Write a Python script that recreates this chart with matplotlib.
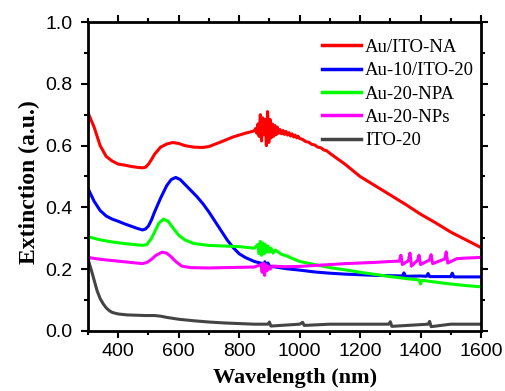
import matplotlib
matplotlib.use("Agg")
import matplotlib.pyplot as plt
from matplotlib.ticker import MultipleLocator

# 读图得到的数据 (波长 nm, 消光)
wl_red = [300, 320, 340, 360, 380, 400, 420, 440, 460, 480, 490, 500, 510, 520, 540, 560, 580,
          600, 620, 650, 680, 700, 740, 780, 820, 840, 850, 854, 858, 862, 866, 870, 874, 878,
          882, 886, 890, 894, 898, 902, 906, 910, 914, 918, 922, 926, 930, 935, 940, 945, 950,
          955, 960, 965, 970, 975, 980, 985, 990, 995, 1000, 1010, 1020, 1030, 1040, 1050, 1060,
          1070, 1080, 1090, 1100, 1150, 1200, 1250, 1300, 1350, 1400, 1450, 1500, 1550, 1600]
ext_red = [0.706, 0.66, 0.60, 0.565, 0.55, 0.54, 0.537, 0.533, 0.53, 0.528, 0.53, 0.54, 0.555,
           0.572, 0.595, 0.605, 0.61, 0.607, 0.60, 0.595, 0.594, 0.597, 0.612, 0.628, 0.64,
           0.645, 0.648, 0.655, 0.64, 0.67, 0.63, 0.70, 0.615, 0.69, 0.635, 0.685, 0.60, 0.71,
           0.61, 0.685, 0.625, 0.67, 0.63, 0.665, 0.635, 0.66, 0.64, 0.652, 0.638, 0.649, 0.636,
           0.646, 0.634, 0.642, 0.631, 0.638, 0.628, 0.634, 0.625, 0.63, 0.623, 0.62, 0.613,
           0.611, 0.604, 0.602, 0.595, 0.593, 0.586, 0.583, 0.575, 0.54, 0.50, 0.47, 0.44, 0.41,
           0.378, 0.35, 0.32, 0.295, 0.27]

wl_blue = [300, 320, 340, 360, 380, 400, 420, 440, 460, 480, 490, 500, 510, 520, 540, 560, 575,
           590, 605, 620, 640, 660, 680, 700, 720, 740, 760, 780, 800, 820, 850, 870, 880, 885,
           890, 895, 900, 920, 940, 960, 980, 1000, 1050, 1100, 1150, 1200, 1250, 1300, 1340,
           1345, 1350, 1400, 1420, 1425, 1430, 1480, 1500, 1505, 1510, 1550, 1600]
ext_blue = [0.461, 0.42, 0.39, 0.372, 0.362, 0.355, 0.347, 0.34, 0.333, 0.327, 0.33, 0.34, 0.36,
            0.385, 0.43, 0.47, 0.49, 0.497, 0.49, 0.475, 0.455, 0.435, 0.412, 0.385, 0.355,
            0.325, 0.295, 0.27, 0.25, 0.238, 0.225, 0.22, 0.214, 0.224, 0.206, 0.22, 0.21,
            0.207, 0.204, 0.201, 0.199, 0.197, 0.191, 0.187, 0.184, 0.182, 0.18, 0.179, 0.178,
            0.188, 0.177, 0.178, 0.177, 0.186, 0.176, 0.176, 0.176, 0.187, 0.175, 0.175, 0.175]

wl_green = [300, 340, 380, 420, 460, 480, 495, 510, 520, 535, 550, 565, 580, 600, 620, 650, 700,
            750, 800, 850, 862, 866, 870, 874, 878, 882, 886, 890, 895, 900, 906, 912, 920, 940,
            960, 980, 1000, 1050, 1100, 1150, 1200, 1250, 1300, 1350, 1395, 1400, 1405, 1450,
            1500, 1550, 1600]
ext_green = [0.305, 0.295, 0.288, 0.283, 0.279, 0.277, 0.28, 0.30, 0.32, 0.35, 0.362, 0.355,
             0.335, 0.31, 0.295, 0.283, 0.277, 0.275, 0.273, 0.268, 0.28, 0.25, 0.29, 0.245,
             0.285, 0.25, 0.28, 0.255, 0.275, 0.255, 0.268, 0.252, 0.262, 0.248, 0.242, 0.233,
             0.225, 0.215, 0.205, 0.198, 0.19, 0.183, 0.176, 0.17, 0.165, 0.152, 0.164, 0.158,
             0.152, 0.147, 0.143]

wl_mag = [300, 340, 380, 420, 460, 480, 495, 510, 525, 545, 560, 575, 590, 610, 640, 700, 750,
          800, 850, 872, 876, 880, 884, 888, 892, 896, 902, 910, 950, 1000, 1050, 1100, 1150,
          1200, 1250, 1300, 1330, 1335, 1340, 1360, 1365, 1370, 1390, 1395, 1400, 1430, 1435,
          1440, 1480, 1485, 1490, 1520, 1550, 1600]
ext_mag = [0.238, 0.232, 0.228, 0.224, 0.22, 0.218, 0.222, 0.232, 0.245, 0.255, 0.252, 0.24,
           0.225, 0.21, 0.205, 0.204, 0.205, 0.206, 0.207, 0.215, 0.19, 0.22, 0.18, 0.215, 0.195,
           0.21, 0.20, 0.21, 0.208, 0.209, 0.212, 0.215, 0.218, 0.22, 0.222, 0.225, 0.226, 0.245,
           0.215, 0.228, 0.252, 0.21, 0.229, 0.245, 0.215, 0.23, 0.247, 0.218, 0.233, 0.256,
           0.22, 0.234, 0.236, 0.238]

wl_gray = [300, 310, 320, 330, 340, 350, 360, 370, 380, 400, 430, 460, 490, 520, 540, 560, 600,
           650, 700, 750, 800, 850, 895, 900, 905, 1000, 1010, 1015, 1100, 1200, 1295, 1300,
           1305, 1425, 1430, 1435, 1500, 1600]
ext_gray = [0.232, 0.20, 0.165, 0.13, 0.105, 0.088, 0.075, 0.066, 0.06, 0.055, 0.052, 0.051,
            0.05, 0.05, 0.048, 0.044, 0.038, 0.033, 0.029, 0.026, 0.024, 0.022, 0.022, 0.029,
            0.016, 0.022, 0.028, 0.018, 0.022, 0.022, 0.022, 0.03, 0.015, 0.022, 0.031, 0.014,
            0.022, 0.022]

labels = ["Au/ITO-NA", "Au-10/ITO-20", "Au-20-NPA", "Au-20-NPs", "ITO-20"]
colors = ["#ff0000", "#0000ff", "#00ff00", "#ff00ff", "#444444"]

fig = plt.figure(figsize=(5.06, 3.91), dpi=100)
ax = fig.add_axes([0.174, 0.1535, 0.7766, 0.7902])

series = [(wl_red, ext_red), (wl_blue, ext_blue), (wl_green, ext_green),
          (wl_mag, ext_mag), (wl_gray, ext_gray)]
for (x, y), lab, c in zip(series, labels, colors):
    ax.plot(x, y, color=c, lw=2.2, label=lab)

ax.set_xlim(300, 1600)
ax.set_ylim(0, 1.0)
ax.xaxis.set_minor_locator(MultipleLocator(100))
ax.yaxis.set_major_locator(MultipleLocator(0.2))
ax.yaxis.set_minor_locator(MultipleLocator(0.1))
ax.set_xticks(range(400, 1601, 200))

for s in ax.spines.values():
    s.set_linewidth(2)
ax.tick_params(which="both", direction="out", width=1.5, top=True, right=True,
               labeltop=False, labelright=False)
ax.tick_params(which="major", length=5)
ax.tick_params(which="minor", length=3)
ax.tick_params(axis="y", pad=6)
for t in ax.get_xticklabels() + ax.get_yticklabels():
    t.set_fontfamily("Liberation Sans")
    t.set_fontsize(14)

ax.set_xlabel("Wavelength (nm)", fontfamily="Liberation Serif", fontweight="bold", fontsize=16)
ax.set_ylabel("Extinction (a.u.)", fontfamily="Liberation Serif", fontweight="bold", fontsize=17)
ax.xaxis.set_label_coords(0.527, -0.12)
ax.yaxis.set_label_coords(-0.122, 0.482)

leg = ax.legend(loc="upper right", frameon=False, prop={"family": "Liberation Serif", "size": 13.5},
                handlelength=2.1, handletextpad=0.2, labelspacing=0.33,
                bbox_to_anchor=(1.025, 1.0))
for h in leg.get_lines():
    h.set_linewidth(2.5)

fig.savefig("out.png", dpi=100)
